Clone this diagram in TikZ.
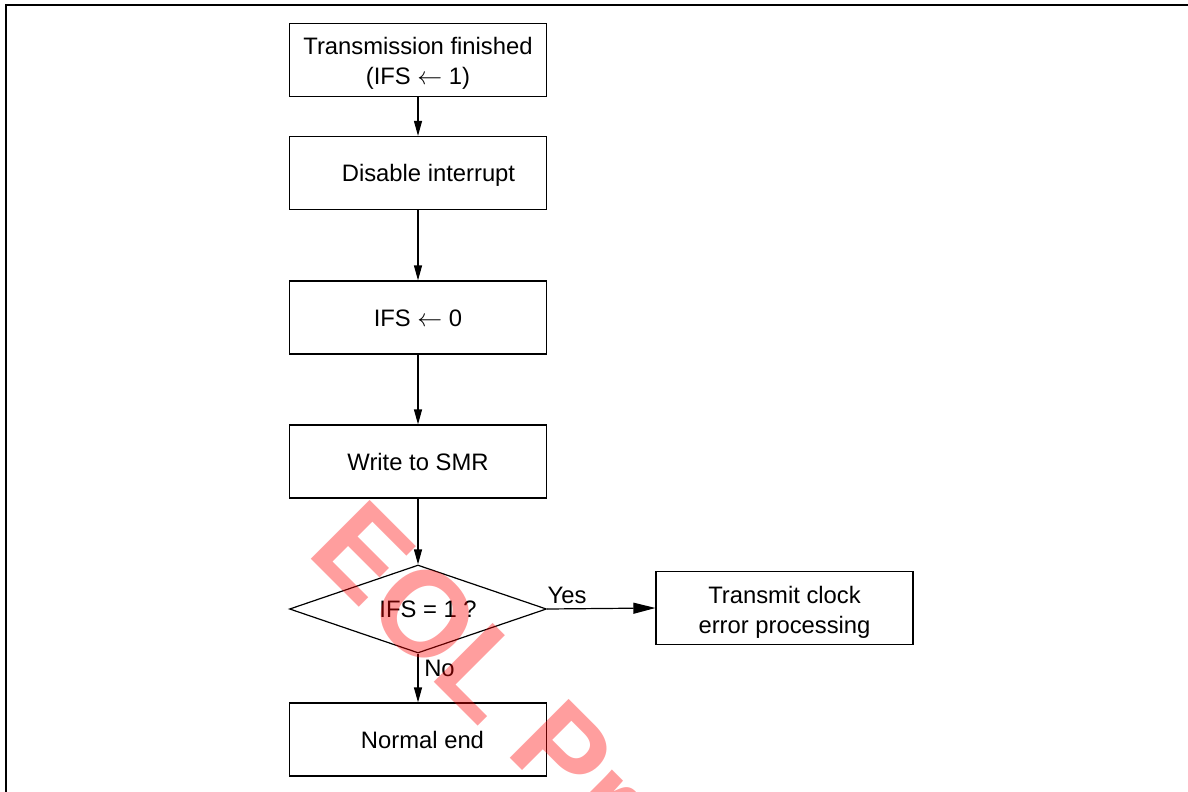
\documentclass[tikz,border=0pt]{standalone}
\usepackage{fontspec}
\setmainfont{Liberation Sans}
\usetikzlibrary{arrows.meta,shapes.geometric}
\begin{document}
\begin{tikzpicture}[x=1pt,y=-1pt,
  txt/.style={font=\fontsize{23.8}{30}\selectfont},
  box/.style={txt,draw,line width=1.2pt,minimum width=257pt,minimum height=73pt,inner sep=0pt,align=center},
  one/.style={text height=17pt,text depth=0pt},
  dec/.style={txt,draw,line width=1.2pt,shape=diamond,minimum width=257pt,minimum height=88pt,aspect=2.92,inner sep=0pt,text height=17pt,text depth=0pt},
  arr/.style={line width=1.2pt,-{Triangle[length=15pt,width=8pt]}},
  harr/.style={line width=1.2pt,-{Triangle[length=22pt,width=11pt]}},
  lbl/.style={txt,inner sep=0pt}]
\useasboundingbox (0,0) rectangle (1188,792);
\draw[line width=2pt] (6,792) -- (6,5) -- (1188,5);
\node[box] (b1) at (418,60) {\rule{0pt}{24.5pt}Transmission finished\\(IFS $\leftarrow$ 1)};
\node[box,one] (b2) at (418,173) {\hspace*{21pt}Disable interrupt};
\node[box,one] (b3) at (418,317.5) {IFS $\leftarrow$ 0};
\node[box,one] (b4) at (418,461.5) {Write to SMR};
\node[dec] (d) at (418,609) {\hspace*{20pt}IFS = 1 ?};
\node[box,one] (b5) at (418,739.5) {\hspace*{9pt}Normal end};
\node[box] (b6) at (784.5,608) {\rule{0pt}{25pt}Transmit clock\\error processing};
\draw[arr] (b1) -- (b2);
\draw[arr] (b2) -- (b3);
\draw[arr] (b3) -- (b4);
\draw[arr] (b4) -- (d);
\draw[arr] (d) -- (b5);
\draw[harr] (d.east) -- (b6.west);
\node[lbl,one] (yes) at (567,595) {Yes};
\node[lbl,one] (no) at (439.5,668) {No};
\begin{scope}
\clip (0,0) rectangle (1188,792);
\node[rotate=-45,anchor=base west,inner sep=0pt,text=red,opacity=0.38,font=\bfseries\fontsize{121}{121}\selectfont] (wm) at (305,553) {EOL Pr};
\end{scope}
\end{tikzpicture}
\end{document}
